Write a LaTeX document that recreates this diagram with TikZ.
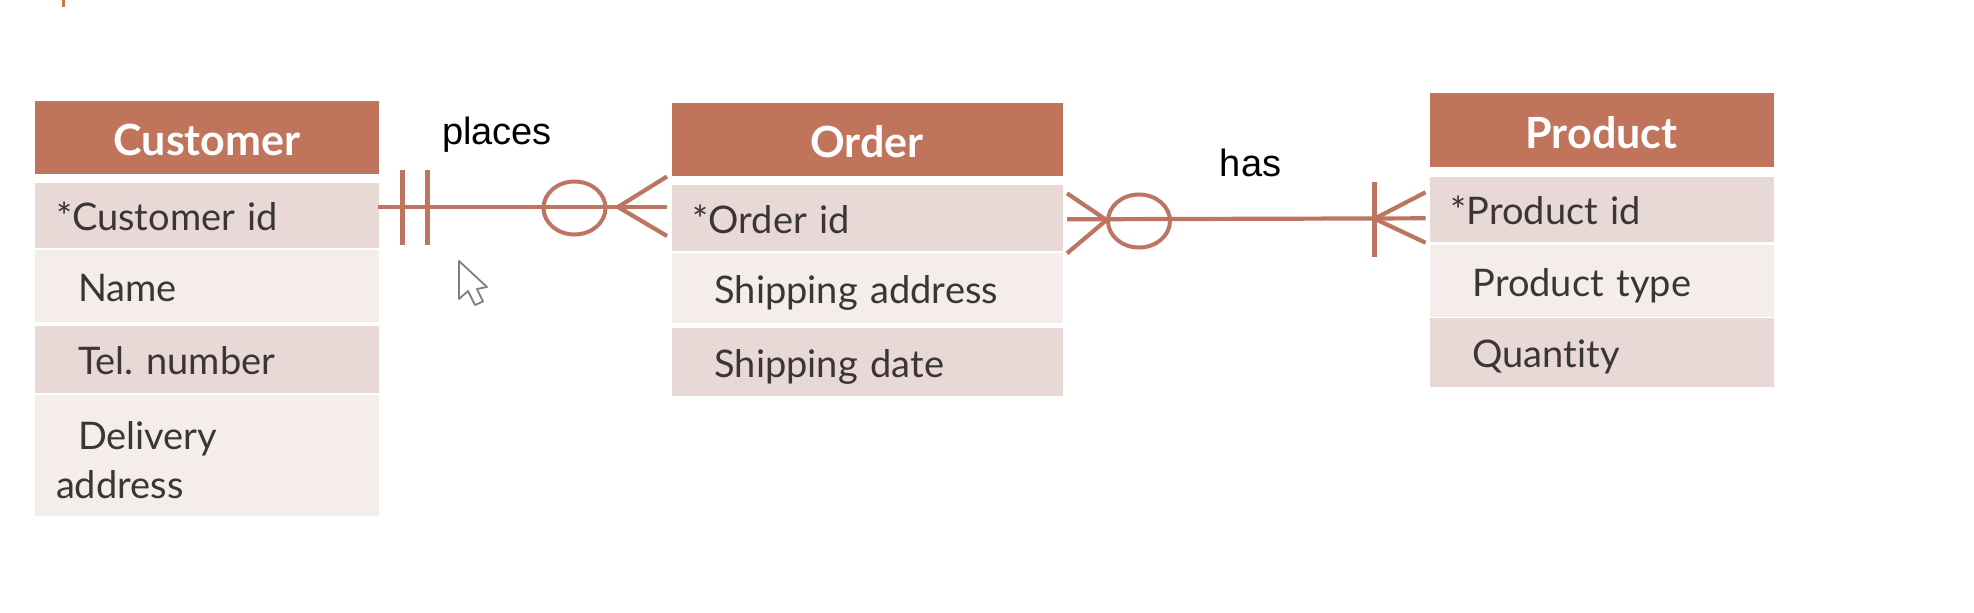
\documentclass[tikz,border=0pt]{standalone}
\usepackage{fontspec}
\setmainfont{Lato}[Ligatures=NoCommon]
\newfontfamily\labelfont{Liberation Sans}
\usetikzlibrary{positioning, shapes.geometric}

\definecolor{headbrown}{HTML}{C0745C}
\definecolor{rowdark}{HTML}{E8D9D6}
\definecolor{rowlight}{HTML}{F4EDEB}
\definecolor{linebrown}{HTML}{BD7562}
\definecolor{inkgrey}{HTML}{3A3636}

\tikzset{
	tablehead/.style={anchor=north west, fill=headbrown, text=white, inner sep=0pt, outer sep=0pt, text height=20pt, text depth=1.4pt, font=\fontsize{21.5}{24}\selectfont\bfseries, align=center},
	tablerow/.style={inner xsep=10.5pt, inner ysep=0pt, outer sep=0pt, text=inkgrey, text height=17.2pt, text depth=2pt, font=\fontsize{19}{24.5}\selectfont, align=left},
	rowd/.style={tablerow, fill=rowdark},
	rowl/.style={tablerow, fill=rowlight},
	relline/.style={draw=linebrown, line width=2.1pt},
	ring/.style={ellipse, draw=linebrown, line width=2pt, inner sep=0pt, minimum width=31pt, minimum height=26.5pt},
	rellabel/.style={inner sep=0pt, text=black, font=\labelfont\fontsize{19}{22}\selectfont}
}
\newcommand{\ind}{\hspace*{11pt}}

\begin{document}
\begin{tikzpicture}[x=0.5pt, y=-0.5pt]
		
		\useasboundingbox (0,0) rectangle (1974,612);
		\fill[white] (0,0) rectangle (1974,612);
		
		% customer table
		\node[tablehead, minimum width=172pt, minimum height=36.7pt] (customer) at (35,100.5) {Customer};
		\node[rowd, text width=151pt, minimum height=32.7pt, below=4.5pt of customer] (customerid) {*Customer id};
		\node[rowl, text width=151pt, minimum height=35.8pt, below=1pt of customerid] (name) {\ind Name};
		\node[rowd, text width=151pt, minimum height=33.3pt, below=2pt of name] (telnumber) {\ind Tel.\ number};
		\node[rowl, text width=151pt, minimum height=60.5pt, text depth=23.5pt, below=1.2pt of telnumber] (delivery) {\ind Delivery\\address};
		
		% order table
		\node[tablehead, minimum width=195.5pt, minimum height=36.5pt] (order) at (671.5,102.7) {Order};
		\node[rowd, text width=174.5pt, minimum height=32.8pt, below=4.7pt of order] (orderid) {*Order id};
		\node[rowl, text width=174.5pt, minimum height=35pt, below=1.3pt of orderid] (shipaddress) {\ind Shipping address};
		\node[rowd, text width=174.5pt, minimum height=34.2pt, below=2.2pt of shipaddress] (shipdate) {\ind Shipping date};
		
		% product table
		\node[tablehead, minimum width=172pt, minimum height=36.7pt] (product) at (1429.5,93.3) {Product};
		\node[rowd, text width=151pt, minimum height=32.5pt, below=5pt of product] (productid) {*Product id};
		\node[rowl, text width=151pt, minimum height=35.8pt, below=1.7pt of productid] (producttype) {\ind Product type};
		\node[rowd, text width=151pt, minimum height=34.2pt, below=0.8pt of producttype] (quantity) {\ind Quantity};
		
		% relationship labels
		\node[rellabel] (places) at (497,135) {places};
		\node[rellabel] (has) at (1250.5,163) {has};
		
		% places: exactly one to zero or many
		\coordinate (placesa) at (378,207);
		\coordinate (placesb) at (667,207);
		\coordinate (placesc) at (618,207);
		\node[ring] (placesring) at (574.5,208) {};
		\draw[relline] (placesa) -- (placesb);
		\draw[relline] (402.5,170) -- (402.5,245);
		\draw[relline] (427.5,170) -- (427.5,245);
		\draw[relline] (667,176.5) -- (placesc) -- (667,236);
		
		% has: zero or many to one or many
		\coordinate (hasa) at (1067,219.3);
		\coordinate (hasb) at (1425.5,218.3);
		\coordinate (hasc) at (1106.5,220);
		\coordinate (hasd) at (1374.5,218.7);
		\node[ring] (hasring) at (1139,221) {};
		\draw[relline] (hasa) -- (hasb);
		\draw[relline] (1067,193.3) -- (hasc) -- (1067,253.3);
		\draw[relline] (1374.5,181.7) -- (1374.5,257.3);
		\draw[relline] (1425.5,192.3) -- (hasd) -- (1425.5,242.7);
		
		% mouse pointer
		\draw[gray, line width=0.9pt, fill=white, line join=round] (459,261) -- (459,299) -- (468,291) -- (475,305) -- (483,301.5) -- (477,289) -- (487,287) -- cycle;
		
		% leftover mark at the top edge
		\draw[draw=headbrown!80!orange, line width=1.5pt] (63,0) -- (63,7);
		\end{tikzpicture}
\end{document}
